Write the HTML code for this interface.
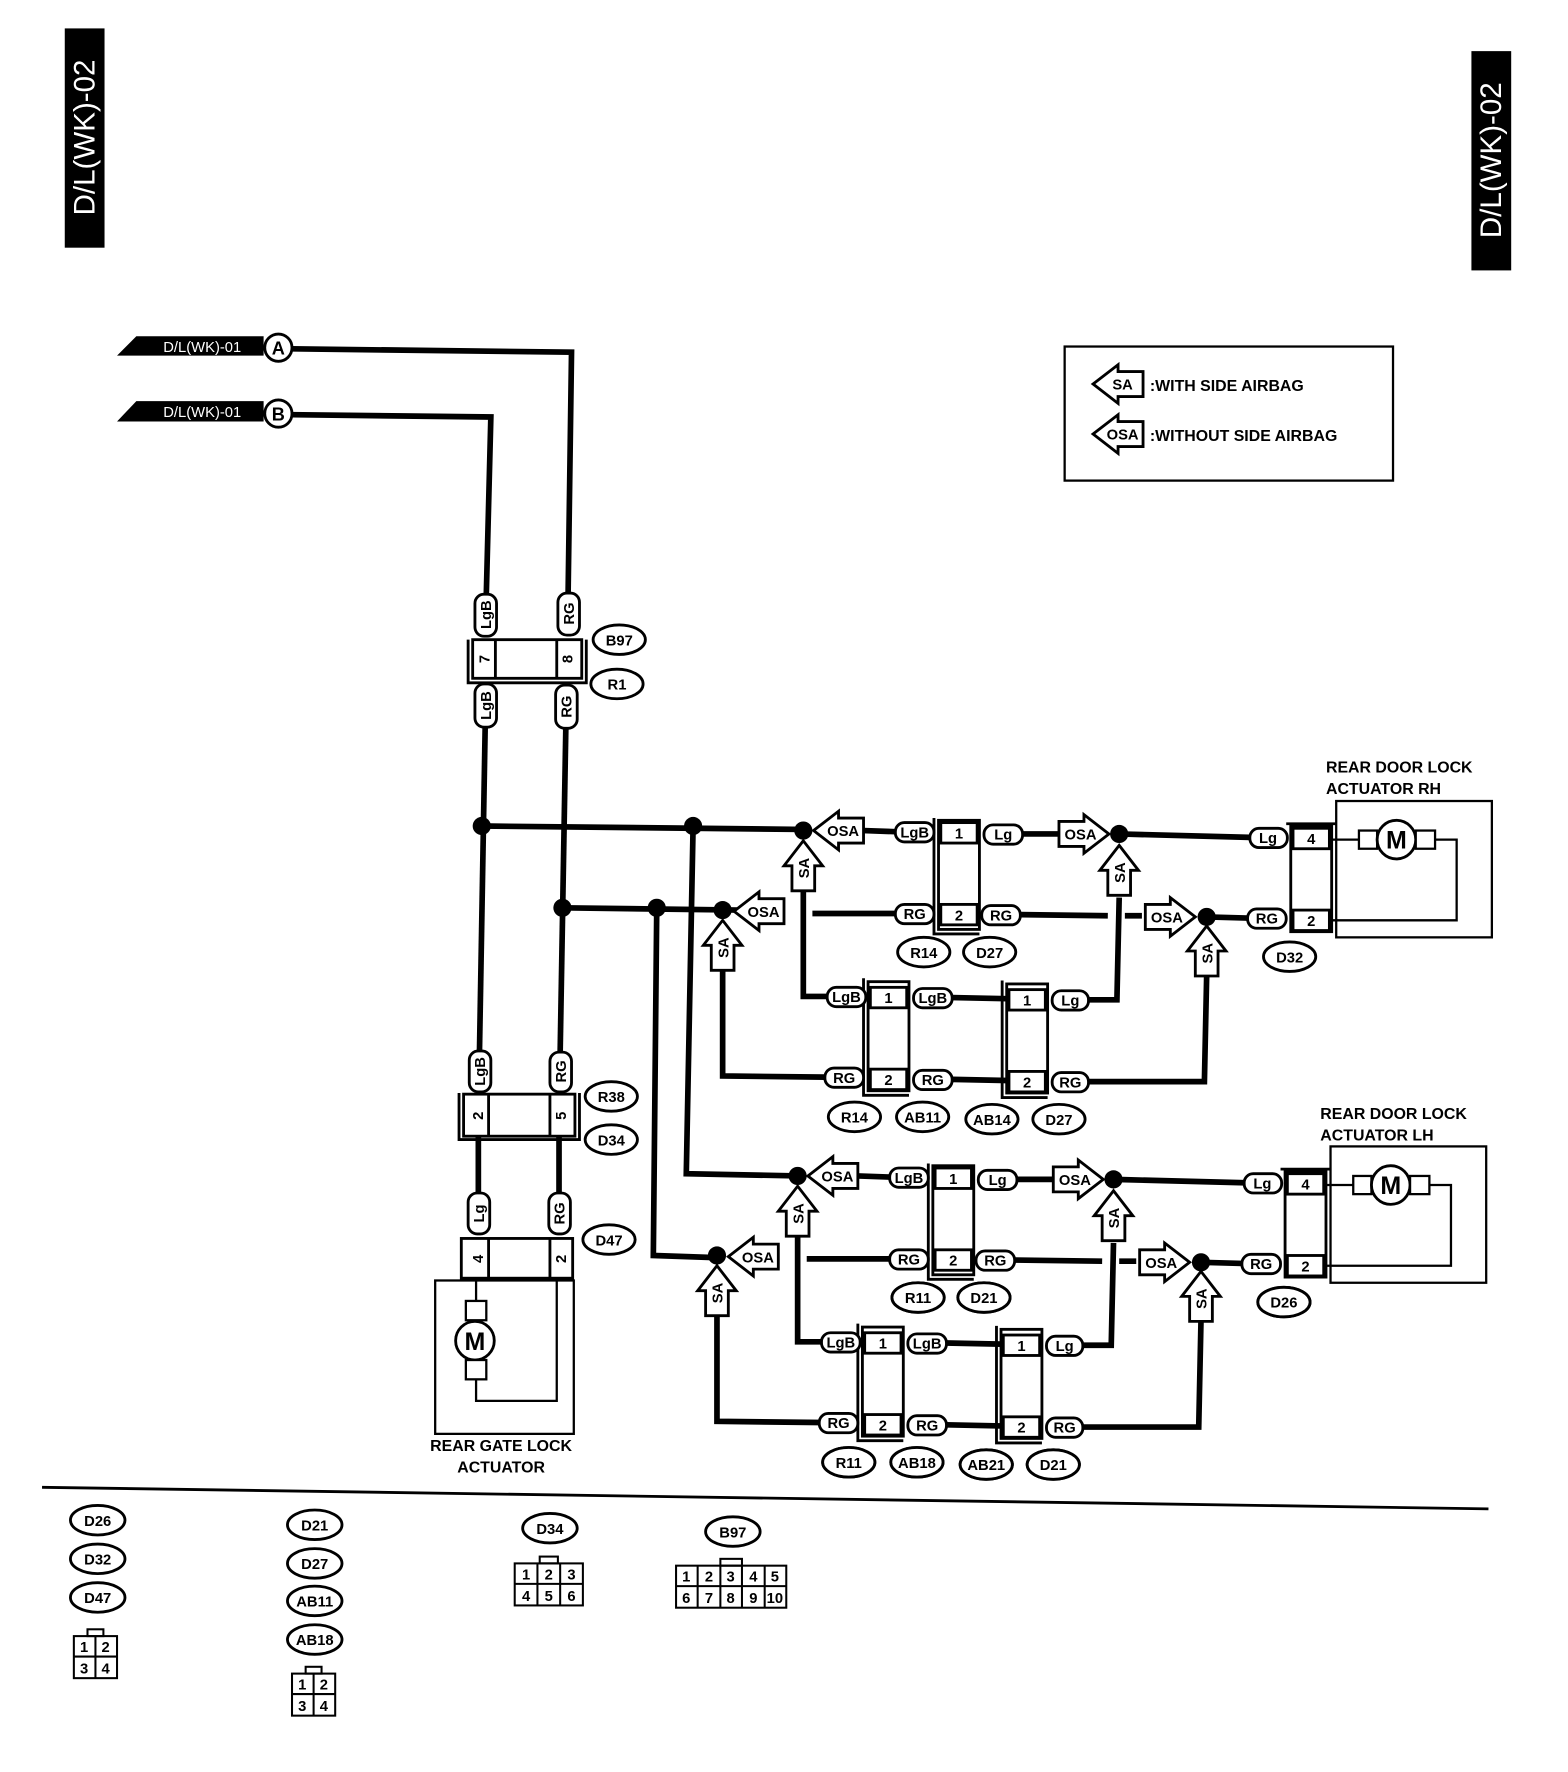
<!DOCTYPE html>
<html><head><meta charset="utf-8"><style>
html,body{margin:0;padding:0;background:#fff}
svg{display:block}
text{font-family:"Liberation Sans",sans-serif;font-weight:bold;fill:#000}
</style></head><body>
<svg width="1568" height="1772" viewBox="0 0 1380 1559.6" preserveAspectRatio="none" xmlns="http://www.w3.org/2000/svg">
<defs>
<path id="al" d="M0,0 L22,-17 L22,-11 L44,-11 L44,11 L22,11 L22,17 Z" fill="#fff" stroke="#000" stroke-width="2.5"/>
<path id="ar" d="M0,0 L-22,-17 L-22,-11 L-44,-11 L-44,11 L-22,11 L-22,17 Z" fill="#fff" stroke="#000" stroke-width="2.5"/>
<path id="au" d="M0,0 L-17,22 L-10,22 L-10,44 L10,44 L10,22 L17,22 Z" fill="#fff" stroke="#000" stroke-width="2.5"/>
</defs>
<rect width="1380" height="1560" fill="#fff"/>

<!-- title tabs -->
<rect x="57" y="25" width="35" height="193" fill="#000"/>
<text transform="translate(83,121) rotate(-90)" font-size="26" text-anchor="middle" style="fill:#fff;font-weight:normal">D/L(WK)-02</text>
<rect x="1295" y="45" width="35" height="193" fill="#000"/>
<text transform="translate(1321,141) rotate(-90)" font-size="26" text-anchor="middle" style="fill:#fff;font-weight:normal">D/L(WK)-02</text>

<!-- legend -->
<rect x="937" y="305" width="289" height="118" fill="none" stroke="#000" stroke-width="2"/>
<use href="#al" x="962" y="338"/>
<text x="988" y="343" font-size="13" text-anchor="middle">SA</text>
<text x="1012" y="344" font-size="14">:WITH SIDE AIRBAG</text>
<use href="#al" x="962" y="382"/>
<text x="988" y="387" font-size="13" text-anchor="middle">OSA</text>
<text x="1012" y="388" font-size="14">:WITHOUT SIDE AIRBAG</text>

<!-- inputs -->
<path d="M103,313 L120,296 L232,296 L232,313 Z" fill="#000"/>
<text x="178" y="310" font-size="13" text-anchor="middle" style="fill:#fff;font-weight:normal">D/L(WK)-01</text>
<circle cx="245" cy="306" r="12" fill="#fff" stroke="#000" stroke-width="2.5"/>
<text x="245" y="312" font-size="16" text-anchor="middle">A</text>
<path d="M103,371 L120,353 L232,353 L232,371 Z" fill="#000"/>
<text x="178" y="367" font-size="13" text-anchor="middle" style="fill:#fff;font-weight:normal">D/L(WK)-01</text>
<circle cx="245" cy="364" r="12" fill="#fff" stroke="#000" stroke-width="2.5"/>
<text x="245" y="370" font-size="16" text-anchor="middle">B</text>

<g fill="none" stroke="#000" stroke-width="5">
<polyline points="257,307 503,310 500,522"/>
<polyline points="257,365 432,367 428,523"/>
<line x1="427" y1="640" x2="422" y2="925"/>
<line x1="498" y1="640" x2="493" y2="926"/>
<line x1="424" y1="727" x2="707" y2="730"/>
<line x1="495" y1="799" x2="650" y2="801"/>
<polyline points="610,727 604,1033 703,1035"/>
<polyline points="578,799 575,1105 633,1107"/>
<line x1="421" y1="1000" x2="421" y2="1050"/>
<line x1="492" y1="1000" x2="492" y2="1050"/>
</g>
<g fill="#000">
<circle cx="424" cy="727" r="8"/><circle cx="610" cy="727" r="8"/>
<circle cx="495" cy="799" r="8"/><circle cx="578" cy="799" r="8"/>
</g>

<!-- vertical labels -->
<g fill="#fff" stroke="#000" stroke-width="2.5">
<rect x="418" y="523" width="19" height="37" rx="8"/>
<rect x="491" y="522" width="19" height="37" rx="8"/>
<rect x="418" y="602" width="19" height="38" rx="8"/>
<rect x="489" y="603" width="19" height="38" rx="8"/>
<rect x="413" y="925" width="19" height="36" rx="8"/>
<rect x="484" y="926" width="19" height="35" rx="8"/>
<rect x="412" y="1050" width="19" height="36" rx="8"/>
<rect x="483" y="1050" width="19" height="36" rx="8"/>
</g>
<g font-size="13" text-anchor="middle">
<text transform="translate(432,541) rotate(-90)">LgB</text>
<text transform="translate(505,540) rotate(-90)">RG</text>
<text transform="translate(432,621) rotate(-90)">LgB</text>
<text transform="translate(503,622) rotate(-90)">RG</text>
<text transform="translate(427,943) rotate(-90)">LgB</text>
<text transform="translate(498,943) rotate(-90)">RG</text>
<text transform="translate(426,1068) rotate(-90)">Lg</text>
<text transform="translate(497,1068) rotate(-90)">RG</text>
</g>

<!-- B97/R1 connector -->
<g fill="none" stroke="#000" stroke-width="2.5">
<rect x="416" y="563" width="96" height="34"/>
<polyline points="412,563 412,601 516,601 516,563"/>
<line x1="436" y1="563" x2="436" y2="597"/><line x1="490" y1="563" x2="490" y2="597"/>
<rect x="408" y="963" width="98" height="37"/>
<polyline points="404,962 404,1003 510,1003 510,962"/>
<line x1="430" y1="963" x2="430" y2="1000"/><line x1="484" y1="963" x2="484" y2="1000"/>
<rect x="406" y="1090" width="98" height="35"/>
<line x1="430" y1="1090" x2="430" y2="1125"/><line x1="484" y1="1090" x2="484" y2="1125"/>
</g>
<g font-size="13" text-anchor="middle">
<text transform="translate(431,580) rotate(-90)">7</text>
<text transform="translate(504,580) rotate(-90)">8</text>
<text transform="translate(425,982) rotate(-90)">2</text>
<text transform="translate(498,982) rotate(-90)">5</text>
<text transform="translate(425,1108) rotate(-90)">4</text>
<text transform="translate(498,1108) rotate(-90)">2</text>
</g>
<g fill="#fff" stroke="#000" stroke-width="2.5">
<ellipse cx="545" cy="563" rx="23" ry="13"/><ellipse cx="543" cy="602" rx="23" ry="13"/>
<ellipse cx="538" cy="965" rx="23" ry="13"/><ellipse cx="538" cy="1003" rx="23" ry="13"/>
<ellipse cx="536" cy="1091" rx="23" ry="13"/>
</g>
<g font-size="13" text-anchor="middle">
<text x="545" y="568">B97</text><text x="543" y="607">R1</text>
<text x="538" y="970">R38</text><text x="538" y="1008">D34</text>
<text x="536" y="1096">D47</text>
</g>

<!-- rear gate actuator -->
<g fill="none" stroke="#000" stroke-width="2">
<rect x="383" y="1127" width="122" height="135"/>
<polyline points="419,1125 419,1145"/>
<rect x="410" y="1145" width="18" height="17" fill="#fff"/>
<circle cx="418" cy="1180" r="17" stroke-width="2.5" fill="#fff"/>
<rect x="410" y="1197" width="18" height="17" fill="#fff"/>
<polyline points="419,1214 419,1233 490,1233 490,1125"/>
</g>
<text x="418" y="1188" font-size="22" text-anchor="middle">M</text>
<text x="441" y="1277" font-size="14" text-anchor="middle">REAR GATE LOCK</text>
<text x="441" y="1296" font-size="14" text-anchor="middle">ACTUATOR</text>

<!-- RH section -->
<g id="rh">
<g fill="none" stroke="#000" stroke-width="5">
<line x1="760" y1="731" x2="788" y2="732"/>
<line x1="900" y1="734" x2="932" y2="734"/>
<line x1="985" y1="734" x2="1100" y2="737"/>
<line x1="715" y1="804" x2="788" y2="804"/>
<line x1="898" y1="805" x2="975" y2="806"/>
<line x1="990" y1="806" x2="1005" y2="806"/>
<line x1="1062" y1="807" x2="1098" y2="808"/>
<polyline points="707,785 707,877 728,877"/>
<line x1="838" y1="878" x2="886" y2="879"/>
<polyline points="958,880 983,880 985,790"/>
<polyline points="636,853 636,947 726,948"/>
<line x1="838" y1="950" x2="886" y2="951"/>
<polyline points="958,952 1060,952 1062,858"/>
</g>
<g fill="#000"><circle cx="707" cy="731" r="8"/><circle cx="636" cy="801" r="8"/><circle cx="985" cy="734" r="8"/><circle cx="1062" cy="807" r="8"/></g>
<use href="#al" x="716" y="731"/><use href="#al" x="646" y="802"/>
<use href="#ar" x="976" y="734"/><use href="#ar" x="1052" y="807"/>
<use href="#au" x="707" y="740"/><use href="#au" x="636" y="810"/>
<use href="#au" x="985" y="744"/><use href="#au" x="1062" y="815"/>
<g font-size="13" text-anchor="middle">
<text x="742" y="736">OSA</text><text x="672" y="807">OSA</text>
<text x="951" y="739">OSA</text><text x="1027" y="812">OSA</text>
<text transform="translate(712,764) rotate(-90)">SA</text>
<text transform="translate(641,834) rotate(-90)">SA</text>
<text transform="translate(990,768) rotate(-90)">SA</text>
<text transform="translate(1067,839) rotate(-90)">SA</text>
</g>
<!-- connector columns -->
<g fill="none" stroke="#000" stroke-width="2.5">
<rect x="826" y="722" width="36" height="96"/>
<polyline points="822,720 822,822 862,822"/>
<rect x="828" y="724" width="32" height="18"/><rect x="828" y="796" width="32" height="18"/>
<rect x="764" y="864" width="36" height="96"/>
<polyline points="760,861 760,964 800,964"/>
<rect x="766" y="869" width="32" height="18"/><rect x="766" y="941" width="32" height="18"/>
<rect x="886" y="866" width="36" height="96"/>
<polyline points="882,863 882,966 922,966"/>
<rect x="888" y="871" width="32" height="18"/><rect x="888" y="943" width="32" height="18"/>
<rect x="1136" y="727" width="36" height="93"/>
<polyline points="1132,725 1176,725"/>
<rect x="1138" y="729" width="32" height="18"/><rect x="1138" y="801" width="32" height="18"/>
</g>
<g font-size="13" text-anchor="middle">
<text x="844" y="738">1</text><text x="844" y="810">2</text>
<text x="782" y="883">1</text><text x="782" y="955">2</text>
<text x="904" y="885">1</text><text x="904" y="957">2</text>
<text x="1154" y="743">4</text><text x="1154" y="815">2</text>
</g>
<!-- wire labels -->
<g fill="#fff" stroke="#000" stroke-width="2.5">
<rect x="788" y="724" width="34" height="17" rx="8"/>
<rect x="866" y="726" width="34" height="17" rx="8"/>
<rect x="788" y="796" width="34" height="17" rx="8"/>
<rect x="864" y="797" width="34" height="17" rx="8"/>
<rect x="1100" y="729" width="33" height="17" rx="8"/>
<rect x="1098" y="800" width="34" height="17" rx="8"/>
<rect x="728" y="869" width="34" height="17" rx="8"/>
<rect x="804" y="870" width="34" height="17" rx="8"/>
<rect x="926" y="872" width="32" height="17" rx="8"/>
<rect x="726" y="940" width="34" height="17" rx="8"/>
<rect x="804" y="942" width="34" height="17" rx="8"/>
<rect x="926" y="944" width="32" height="17" rx="8"/>
</g>
<g font-size="13" text-anchor="middle">
<text x="805" y="737">LgB</text><text x="883" y="739">Lg</text>
<text x="805" y="809">RG</text><text x="881" y="810">RG</text>
<text x="1116" y="742">Lg</text><text x="1115" y="813">RG</text>
<text x="745" y="882">LgB</text><text x="821" y="883">LgB</text><text x="942" y="885">Lg</text>
<text x="743" y="953">RG</text><text x="821" y="955">RG</text><text x="942" y="957">RG</text>
</g>
<!-- actuator -->
<g fill="none" stroke="#000" stroke-width="2">
<rect x="1176" y="705" width="137" height="120"/>
<line x1="1172" y1="739" x2="1196" y2="739"/>
<rect x="1196" y="731" width="16" height="16" fill="#fff"/>
<circle cx="1229" cy="739" r="17" stroke-width="2.5" fill="#fff"/>
<rect x="1246" y="731" width="17" height="16" fill="#fff"/>
<polyline points="1263,739 1282,739 1282,810 1172,810"/>
</g>
<text x="1229" y="747" font-size="22" text-anchor="middle">M</text>
<g fill="#fff" stroke="#000" stroke-width="2.5">
<ellipse cx="813" cy="838" rx="23" ry="13"/><ellipse cx="871" cy="838" rx="23" ry="13"/>
<ellipse cx="1135" cy="842" rx="23" ry="13"/>
<ellipse cx="752" cy="983" rx="23" ry="13"/><ellipse cx="812" cy="983" rx="23" ry="13"/>
<ellipse cx="873" cy="985" rx="23" ry="13"/><ellipse cx="932" cy="985" rx="23" ry="13"/>
</g>
</g>
<g font-size="13" text-anchor="middle">
<text x="813" y="843">R14</text><text x="871" y="843">D27</text><text x="1135" y="847">D32</text>
<text x="752" y="988">R14</text><text x="812" y="988">AB11</text><text x="873" y="990">AB14</text><text x="932" y="990">D27</text>
</g>
<text x="1167" y="680" font-size="14">REAR DOOR LOCK</text>
<text x="1167" y="699" font-size="14">ACTUATOR RH</text>

<!-- LH section -->
<use href="#rh" transform="translate(-5,304)"/>
<g fill="#fff" stroke="#000" stroke-width="2.5">
<ellipse cx="808" cy="1142" rx="23" ry="13"/><ellipse cx="866" cy="1142" rx="23" ry="13"/>
<ellipse cx="1130" cy="1146" rx="23" ry="13"/>
<ellipse cx="747" cy="1287" rx="23" ry="13"/><ellipse cx="807" cy="1287" rx="23" ry="13"/>
<ellipse cx="868" cy="1289" rx="23" ry="13"/><ellipse cx="927" cy="1289" rx="23" ry="13"/>
</g>
<g font-size="13" text-anchor="middle">
<text x="808" y="1147">R11</text><text x="866" y="1147">D21</text><text x="1130" y="1151">D26</text>
<text x="747" y="1292">R11</text><text x="807" y="1292">AB18</text><text x="868" y="1294">AB21</text><text x="927" y="1294">D21</text>
</g>
<text x="1162" y="985" font-size="14">REAR DOOR LOCK</text>
<text x="1162" y="1004" font-size="14">ACTUATOR LH</text>

<!-- bottom -->
<line x1="37" y1="1309" x2="1310" y2="1328" stroke="#000" stroke-width="2.5"/>
<g fill="#fff" stroke="#000" stroke-width="2.5">
<ellipse cx="86" cy="1338" rx="24" ry="13"/><ellipse cx="86" cy="1372" rx="24" ry="13"/><ellipse cx="86" cy="1406" rx="24" ry="13"/>
<ellipse cx="277" cy="1342" rx="24" ry="13"/><ellipse cx="277" cy="1376" rx="24" ry="13"/><ellipse cx="277" cy="1409" rx="24" ry="13"/><ellipse cx="277" cy="1443" rx="24" ry="13"/>
<ellipse cx="484" cy="1345" rx="24" ry="13"/><ellipse cx="645" cy="1348" rx="24" ry="13"/>
</g>
<g font-size="13" text-anchor="middle">
<text x="86" y="1343">D26</text><text x="86" y="1377">D32</text><text x="86" y="1411">D47</text>
<text x="277" y="1347">D21</text><text x="277" y="1381">D27</text><text x="277" y="1414">AB11</text><text x="277" y="1448">AB18</text>
<text x="484" y="1350">D34</text><text x="645" y="1353">B97</text>
</g>
<g fill="none" stroke="#000" stroke-width="1.8">
<rect x="65" y="1440" width="38" height="37"/><line x1="65" y1="1458" x2="103" y2="1458"/><line x1="84" y1="1440" x2="84" y2="1477"/>
<rect x="77" y="1434" width="14" height="6"/>
<rect x="257" y="1473" width="38" height="37"/><line x1="257" y1="1491" x2="295" y2="1491"/><line x1="276" y1="1473" x2="276" y2="1510"/>
<rect x="269" y="1467" width="14" height="6"/>
<rect x="453" y="1376" width="60" height="37"/><line x1="453" y1="1394" x2="513" y2="1394"/><line x1="473" y1="1376" x2="473" y2="1413"/><line x1="493" y1="1376" x2="493" y2="1413"/>
<rect x="475" y="1370" width="16" height="6"/>
<rect x="595" y="1378" width="97" height="37"/><line x1="595" y1="1396" x2="692" y2="1396"/>
<line x1="614" y1="1378" x2="614" y2="1415"/><line x1="634" y1="1378" x2="634" y2="1415"/><line x1="653" y1="1378" x2="653" y2="1415"/><line x1="673" y1="1378" x2="673" y2="1415"/>
<rect x="634" y="1372" width="19" height="6"/>
</g>
<g font-size="13" text-anchor="middle" style="font-weight:normal">
<text x="74" y="1454">1</text><text x="93" y="1454">2</text><text x="74" y="1473">3</text><text x="93" y="1473">4</text>
<text x="266" y="1487">1</text><text x="285" y="1487">2</text><text x="266" y="1506">3</text><text x="285" y="1506">4</text>
<text x="463" y="1390">1</text><text x="483" y="1390">2</text><text x="503" y="1390">3</text>
<text x="463" y="1409">4</text><text x="483" y="1409">5</text><text x="503" y="1409">6</text>
<text x="604" y="1392">1</text><text x="624" y="1392">2</text><text x="643" y="1392">3</text><text x="663" y="1392">4</text><text x="682" y="1392">5</text>
<text x="604" y="1411">6</text><text x="624" y="1411">7</text><text x="643" y="1411">8</text><text x="663" y="1411">9</text><text x="682" y="1411">10</text>
</g>
</svg>
</body></html>
